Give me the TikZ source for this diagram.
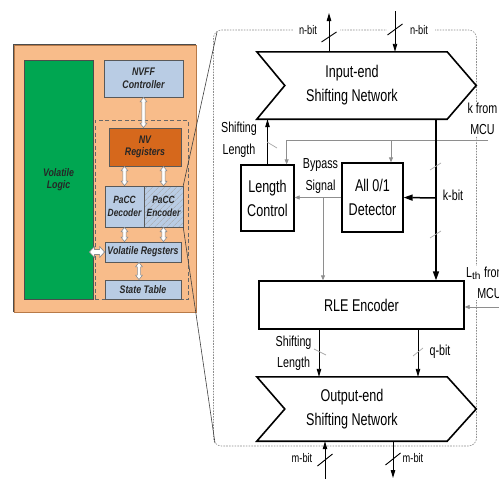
\documentclass[tikz,border=0pt]{standalone}
\usepackage{fontspec}
\setmainfont{Liberation Sans}
\newfontfamily\narrowsf[FakeStretch=0.74]{Liberation Sans}
\newfontfamily\narrowbf[FakeStretch=0.8]{Liberation Sans}
\usetikzlibrary{arrows.meta,calc,patterns.meta}

\definecolor{panelorange}{HTML}{F8BC8A}
\definecolor{paneledge}{HTML}{B87A48}
\definecolor{logicgreen}{HTML}{00A651}
\definecolor{boxblue}{HTML}{B9CCE4}
\definecolor{nvorange}{HTML}{D6681C}
\definecolor{wiregray}{HTML}{8E8E8E}
\definecolor{slashgray}{HTML}{A8A8A8}

\tikzset{
  x=1pt, y=-1pt,
  blockfont/.style={font=\narrowbf\bfseries\itshape\fontsize{11}{12.5}\selectfont},
  lbox/.style={draw=black!65, line width=0.8pt, fill=boxblue, inner sep=0pt,
    blockfont, align=center, text=black!85},
  hollow/.style={draw=black!45, fill=white, line width=0.6pt, line join=round},
  mainfont/.style={font=\narrowsf\fontsize{17}{24}\selectfont, align=center},
  labelfont/.style={font=\narrowsf\fontsize{14.5}{21.5}\selectfont, align=center},
  bitfont/.style={font=\narrowsf\fontsize{12.5}{14}\selectfont},
  rbox/.style={draw=black, line width=1.3pt, inner sep=0pt, mainfont},
  shifter/.style={draw=black, line width=1.6pt, line join=miter},
  wire/.style={draw=black, line width=0.9pt, -{Triangle[length=8pt,width=4.5pt]}},
  thickwire/.style={draw=black, line width=1.5pt, -{Triangle[length=9pt,width=6pt]}},
  graywire/.style={draw=wiregray, line width=0.8pt, -{Triangle[length=5pt,width=4pt]}},
  busslash/.style={draw=black, line width=0.9pt},
  lightslash/.style={draw=slashgray, line width=0.7pt},
  zoomline/.style={draw=black!75, line width=0.6pt},
}

% hollow double-headed vertical arrow between two points (top, bottom)
\newcommand\hollowv[2]{%
  \draw[hollow] (#1) -- ($(#1)+(3.5,4.5)$) -- ($(#1)+(1.6,4.5)$) -- ($(#2)+(1.6,-4.5)$)
    -- ($(#2)+(3.5,-4.5)$) -- (#2) -- ($(#2)+(-3.5,-4.5)$) -- ($(#2)+(-1.6,-4.5)$)
    -- ($(#1)+(-1.6,4.5)$) -- ($(#1)+(-3.5,4.5)$) -- cycle;}

\begin{document}
\begin{tikzpicture}
\useasboundingbox (0,0) rectangle (499,479);
\clip (0,0) rectangle (499,479);

% ---------------- left: chip overview ----------------
\node[draw=paneledge, line width=0.8pt, fill=panelorange, minimum width=182pt,
  minimum height=267pt, inner sep=0pt] (chip) at (105,178.5) {};
\draw[black!70, line width=0.8pt] (chip.south west) -- (chip.north west) -- (chip.north east);

\node[draw=black!70, line width=0.8pt, fill=logicgreen, minimum width=69pt,
  minimum height=239pt, inner sep=0pt, blockfont, align=center, text=black!85]
  (logic) at (58.5,179.5) {Volatile\\Logic};

\node[lbox, minimum width=79pt, minimum height=37pt] (nvff) at (143.5,78.5) {NVFF\\Controller};

\node[draw=black!60, dashed, dash pattern=on 4pt off 2.5pt, line width=0.9pt,
  minimum width=93pt, minimum height=179pt, inner sep=0pt] (nvgroup) at (141.5,210) {};

\node[lbox, fill=nvorange, minimum width=72pt, minimum height=38pt] (nvreg) at (145,147) {NV\\Registers};

\node[lbox, minimum width=39pt, minimum height=41pt, font=\narrowbf\bfseries\itshape\fontsize{10.5}{12.5}\selectfont]
  (dec) at (124.5,206.5) {PaCC\\Decoder};
\node[lbox, minimum width=39pt, minimum height=41pt,
  preaction={fill=boxblue}, pattern={Lines[angle=45,distance=4pt,line width=0.5pt]},
  pattern color=black!35, font=\narrowbf\bfseries\itshape\fontsize{10.5}{12.5}\selectfont]
  (enc) at (163.5,206.5) {PaCC\\Encoder};

\node[lbox, minimum width=76pt, minimum height=20pt] (vreg) at (143,252) {Volatile Regsters};
\node[lbox, minimum width=76pt, minimum height=19pt] (stab) at (143,289.5) {State Table};

% hollow links between the blocks
\hollowv{nvff.south}{nvff.south |- nvreg.north}
\hollowv{nvreg.south -| dec.north}{dec.north}
\hollowv{nvreg.south -| enc.north}{enc.north}
\hollowv{dec.south}{dec.south |- vreg.north}
\hollowv{enc.south}{enc.south |- vreg.north}
\coordinate (stlink) at ($(vreg.south)+(-4,0)$);
\hollowv{stlink}{stlink |- stab.north}
\coordinate (vl) at ($(vreg.west -| logic.east)+(-4,0)$);
\draw[hollow, line width=0.7pt] (vl) -- ($(vl)+(5,-5.5)$) -- ($(vl)+(5,-2.5)$) -- ($(vreg.west)+(-5,-2.5)$)
  -- ($(vreg.west)+(-5,-5.5)$) -- (vreg.west) -- ($(vreg.west)+(-5,5.5)$) -- ($(vreg.west)+(-5,2.5)$)
  -- ($(vl)+(5,2.5)$) -- ($(vl)+(5,5.5)$) -- cycle;

% ---------------- right: detail of the PaCC encoder ----------------
\coordinate (ptl) at (213.5,30);
\coordinate (pbr) at (476.5,446);
\draw[draw=black!45, line width=0.6pt, dash pattern=on 1.6pt off 1.2pt, rounded corners=8pt]
  (ptl) rectangle (pbr);

\draw[zoomline] (enc.north east) -- (217,32);
\draw[zoomline] (enc.south east) -- (215,443);

% openings in the frame around the top bus labels
\fill[white] (293,26) rectangle (340,34);
\fill[white] (387,26) rectangle (435,34);

% input-end shifting network
\node[minimum width=190pt, minimum height=67pt, inner sep=0pt, mainfont] (inshift) at (352,85.5)
  {Input-end\\Shifting Network};
\draw[shifter] (inshift.north west) -- (inshift.north east) -- ($(inshift.east)+(29,0)$)
  -- (inshift.south east) -- (inshift.south west) -- ($(inshift.west)+(28,0)$) -- cycle;

% output-end shifting network
\node[minimum width=190pt, minimum height=64pt, inner sep=0pt, mainfont] (outshift) at (352,409)
  {Output-end\\Shifting Network};
\draw[shifter] (outshift.north west) -- (outshift.north east) -- ($(outshift.east)+(29,0)$)
  -- (outshift.south east) -- (outshift.south west) -- ($(outshift.west)+(28,0)$) -- cycle;

% processing blocks
\node[rbox, minimum width=53pt, minimum height=66pt] (lc) at (267.5,198) {Length\\Control};
\node[rbox, minimum width=61pt, minimum height=69pt] (det) at (372.5,197.5) {All 0/1\\Detector};
\node[rbox, minimum width=205pt, minimum height=48pt] (rle) at (361.5,305) {RLE Encoder};

% n-bit buses at the top
\coordinate (nout) at (329,13);
\coordinate (nin) at (395,11);
\draw[wire] (inshift.north -| nout) -- (nout);
\draw[wire] (nin) -- (inshift.north -| nin);
\draw[busslash] (321.5,42) -- (336.5,32);
\draw[busslash] (387.5,35) -- (402.5,24);
\node[bitfont] (nbl) at (308,30) {n-bit};
\node[bitfont] (nbr) at (419,30) {n-bit};

% k from MCU
\node[labelfont, fill=white, inner sep=1pt] (kmcu) at (482.5,119) {k from\\MCU};
\coordinate (kline) at (488,140);
\coordinate (lcin) at ($(lc.north east)+(-8,0)$);
\coordinate (detin) at ($(det.north)+(18.5,0)$);
\draw[graywire] (kline) -| (lcin);
\draw[graywire] (kline -| detin) -- (detin);

% shifting length fed back to the input network
\draw[wire] (lc.north) -- (lc.north |- inshift.south);
\draw[lightslash] (267,142) -- (277,148);
\node[labelfont] (sl1) at (239,140) {Shifting\\Length};

% k-bit data path
\coordinate (ktap) at (436,198);
\draw[thickwire] (inshift.south -| ktap) -- (rle.north -| ktap);
\draw[thickwire] (ktap) -- (det.east);
\draw[lightslash] (430,170) -- (441,163);
\draw[lightslash] (430,238) -- (441,231);
\node[labelfont] (kbit) at (453,195) {k-bit};

% bypass signal
\coordinate (byp) at (323,198);
\draw[graywire] (det.west) -- (lc.east |- det.west);
\draw[graywire] (byp) -- (rle.north -| byp);
\node[labelfont] (bypl) at (320.5,176) {Bypass\\Signal};

% threshold from MCU
\node[labelfont, fill=white, inner sep=1pt, anchor=west] (lth) at (465,283) {L$_{\mathrm{th}}$ from\\\hspace*{0.5em}MCU};
\coordinate (lline) at (499,307);
\draw[graywire] (lline) -- (rle.east |- lline);

% RLE outputs
\coordinate (slx) at (319,352);
\coordinate (qx) at (418,352);
\draw[wire] (rle.south -| slx) -- (outshift.north -| slx);
\draw[wire] (rle.south -| qx) -- (outshift.north -| qx);
\draw[lightslash] (314,349) -- (326,355);
\draw[lightslash] (413,356) -- (423,348);
\node[labelfont, anchor=east] (sl2) at (315,353) {Shifting\\Length};
\node[labelfont] (qbit) at (440,352) {q-bit};

% m-bit buses at the bottom
\coordinate (min) at (325,481);
\coordinate (mout) at (393,478);
\draw[wire] (min) -- (outshift.south -| min);
\draw[wire] (outshift.south -| mout) -- (mout);
\draw[busslash] (317.5,466) -- (332.5,454);
\draw[busslash] (385.5,465) -- (400.5,453);
\node[bitfont] (mbl) at (302,458) {m-bit};
\node[bitfont] (mbr) at (413,458) {m-bit};
\end{tikzpicture}
\end{document}
